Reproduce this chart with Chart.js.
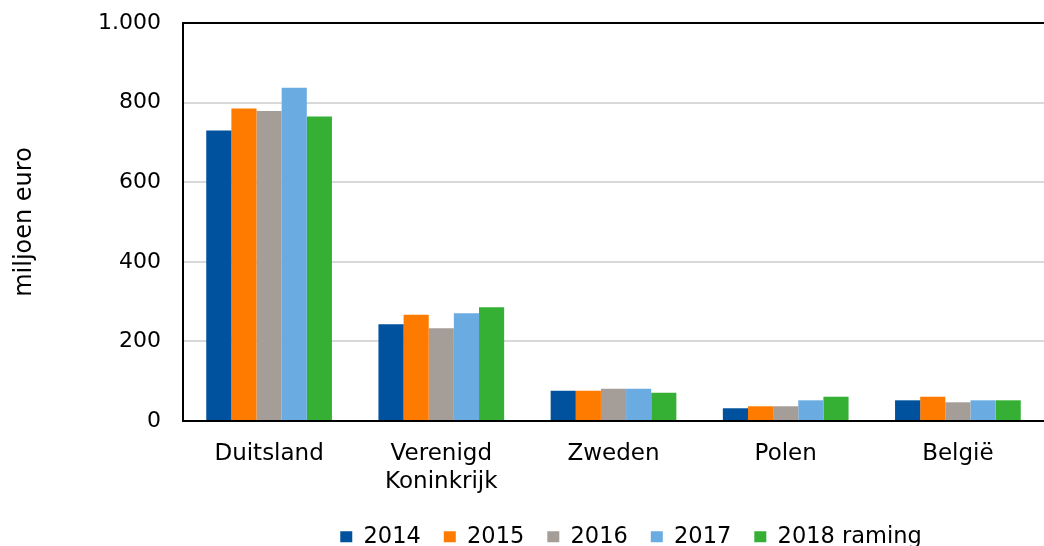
<!DOCTYPE html>
<html>
<head>
<meta charset="utf-8">
<script src="https://cdn.jsdelivr.net/npm/chart.js@4"></script>
<style>
  html, body { margin: 0; padding: 0; background: #fff; }
  #wrap { width: 1044px; height: 546px; }
</style>
</head>
<body>
<div id="wrap"><canvas id="chart"></canvas></div>
<script>
const countries = ["Duitsland", ["Verenigd", "Koninkrijk"], "Zweden", "Polen", "België"];
const years = ["2014", "2015", "2016", "2017", "2018 raming"];
const colors = ["#00529F", "#FF7B00", "#A59D97", "#6AACE2", "#35B035"];

const v2014 = [730, 243, 76, 32, 52];
const v2015 = [785, 267, 76, 37, 61];
const v2016 = [779, 233, 81, 37, 47];
const v2017 = [837, 271, 81, 52, 52];
const v2018 = [765, 286, 71, 61, 52];

const yTicks = [0, 200, 400, 600, 800, 1000];

const font = "'DejaVu Sans', Verdana, sans-serif";

// legend sits under the plot area, not under the whole canvas
const moveLegend = {
  id: "moveLegend",
  afterLayout(chart) {
    const l = chart.legend;
    l.left += 109; l.right += 109;
    l.top += 2; l.bottom += 2;
  }
};

const ctx = document.getElementById("chart").getContext("2d");

new Chart(ctx, {
  type: "bar",
  data: {
    labels: countries,
    datasets: [v2014, v2015, v2016, v2017, v2018].map((vals, i) => ({
      label: years[i],
      data: vals,
      backgroundColor: colors[i],
      borderWidth: 0
    }))
  },
  options: {
    responsive: true,
    maintainAspectRatio: false,
    animation: false,
    datasets: {
      bar: { categoryPercentage: 0.73, barPercentage: 1 }
    },
    layout: { padding: { top: 23, right: 0, bottom: -10, left: 0 } },
    scales: {
      x: {
        grid: { display: false, drawTicks: false },
        border: { color: "#000", width: 2 },
        ticks: {
          color: "#000",
          padding: 19,
          maxRotation: 0,
          autoSkip: false,
          font: { family: font, size: 23, lineHeight: 1.22 }
        },
        afterFit(scale) { scale.height = 79.5; }
      },
      y: {
        min: 0,
        max: 1000,
        afterBuildTicks(scale) {
          scale.ticks = yTicks.map(v => ({ value: v }));
        },
        grid: {
          drawTicks: false,
          lineWidth: 2,
          color: c => (c.tick && c.tick.value === 1000 ? "#000" : "#D9D9D9")
        },
        border: { color: "#000", width: 2 },
        ticks: {
          color: "#000",
          padding: 22,
          font: { family: font, size: 22 },
          callback: v => v.toLocaleString("nl-NL")
        },
        title: {
          display: true,
          text: "miljoen euro",
          color: "#000",
          padding: { top: 10, bottom: 0 },
          font: { family: font, size: 24 }
        },
        afterFit(scale) {
          scale.width = 183;
          scale.paddingTop = 0;
          scale.paddingBottom = 0;
        }
      }
    },
    plugins: {
      legend: {
        position: "bottom",
        labels: {
          color: "#000",
          boxWidth: 12,
          boxHeight: 11,
          padding: 23,
          font: { family: font, size: 22.5 }
        }
      },
      tooltip: { enabled: false }
    }
  },
  plugins: [moveLegend]
});
</script>
</body>
</html>
